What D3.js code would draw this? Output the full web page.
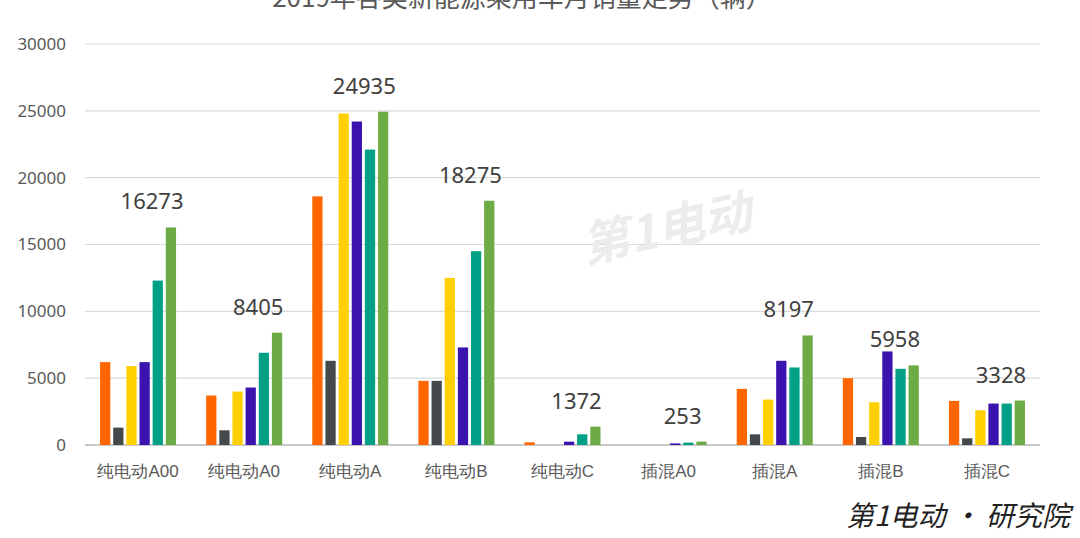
<!DOCTYPE html>
<html><head><meta charset="utf-8">
<script src="https://cdn.jsdelivr.net/npm/d3@7"></script>
<style>body{margin:0;background:#fff;font-family:"Noto Sans CJK SC","Noto Sans",sans-serif}</style>
</head><body><svg id="chart" width="1080" height="538"></svg>
<script>
// categories and monthly series (6 bars per category)
var categories = ["纯电动A00","纯电动A0","纯电动A","纯电动B","纯电动C","插混A0","插混A","插混B","插混C"];
var s1 = [6200,3700,18600,4800,200,0,4200,5000,3300];
var s2 = [1300,1100,6300,4800,0,0,800,600,500];
var s3 = [5900,4000,24800,12500,0,0,3400,3200,2600];
var s4 = [6200,4300,24200,7300,250,120,6300,7000,3100];
var s5 = [12300,6900,22100,14500,800,180,5800,5700,3100];
var s6 = [16273,8405,24935,18275,1372,253,8197,5958,3328];
var yTicks = [0,5000,10000,15000,20000,25000,30000];
var colors = ["#ff6600","#444a4c","#ffd000","#3b14b0","#00a086","#6cab45"];
var series = [s1,s2,s3,s4,s5,s6];

var svg = d3.select("#chart");
var x = d3.scaleBand().domain(categories).range([85,1040]);
var y = d3.scaleLinear().domain([0,30000]).range([445,44]);
var inner = d3.scaleBand().domain(d3.range(6)).range([0,76]).paddingInner(0.22);

// title, partly cut off at the top like the source
svg.append("text").attr("x",522).attr("y",7).attr("text-anchor","middle")
  .style("font-size","26px").style("fill","#595959").text("2019年各类新能源乘用车月销量走势（辆）");

// gridlines
svg.append("g").selectAll("line").data(yTicks).enter().append("line")
  .attr("x1",85).attr("x2",1040).attr("y1",d=>y(d)).attr("y2",d=>y(d))
  .attr("stroke",d=>d==0?"#c8c8c8":"#dadada").attr("stroke-width",d=>d==0?2:1.2);

var yAxis = svg.append("g").attr("transform","translate(66,0)")
  .call(d3.axisLeft(y).tickValues(yTicks).tickFormat(d3.format("d")).tickSize(0).tickPadding(0));
yAxis.select(".domain").remove();
yAxis.selectAll("text").style("font-size","17px").style("fill","#595959").style("font-family","Noto Sans");

var xAxis = svg.append("g").attr("transform","translate(0,465)")
  .call(d3.axisBottom(x).tickSize(0).tickPadding(0));
xAxis.select(".domain").remove();
xAxis.selectAll("text").attr("dy","0.7em").style("font-size","17px").style("fill","#595959");

// watermark
svg.append("text").attr("x",670).attr("y",245).attr("text-anchor","middle")
  .attr("transform","rotate(-12,670,245)").style("font-size","48px").style("font-style","italic")
  .style("font-weight","bold").style("fill","#ececec").text("第1电动");

series.forEach(function(s,i){
  svg.append("g").selectAll("rect").data(s).enter().append("rect")
    .attr("x",(d,j)=>x(categories[j])+x.bandwidth()/2-38+inner(i))
    .attr("width",inner.bandwidth())
    .attr("y",d=>y(d)).attr("height",d=>y(0)-y(d))
    .attr("fill",colors[i]);
});

// value labels on last series
svg.append("g").selectAll("text").data(s6).enter().append("text")
  .attr("x",(d,j)=>x(categories[j])+x.bandwidth()/2+14)
  .attr("y",d=>y(d)-18).attr("text-anchor","middle")
  .style("font-size","22px").style("fill","#404040").style("font-family","Noto Sans")
  .text(d=>d);

// logo
svg.append("text").attr("x",1070).attr("y",526).attr("text-anchor","end")
  .style("font-size","28px").style("font-style","italic").style("fill","#222").text("第1电动 • 研究院");
</script></body></html>
